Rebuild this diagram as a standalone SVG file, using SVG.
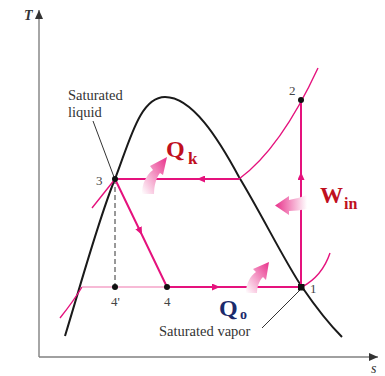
<svg xmlns="http://www.w3.org/2000/svg" width="385" height="376" viewBox="0 0 385 376">
<style>
.axis{stroke:#808080;stroke-width:1.4;fill:none}
.dome{stroke:#1a1a1a;stroke-width:2;fill:none}
.cyc{stroke:#e5127d;stroke-width:2;fill:none}
.iso{stroke:#e5127d;stroke-width:1.4;fill:none}
.isol{stroke:#f5a3c9;stroke-width:1.4;fill:none}
.lead{stroke:#333;stroke-width:1;fill:none}
.dash{stroke:#333;stroke-width:1;stroke-dasharray:5,3;fill:none}
.lbl{font-family:"Liberation Serif",serif;font-size:14.5px;fill:#333}
.num{font-family:"Liberation Serif",serif;font-size:13px;fill:#444}
.big{font-family:"Liberation Serif",serif;font-weight:bold}
.red{fill:#c0101e}
.navy{fill:#1b2a6b}
.dot{fill:#111}
</style>
<defs>
<marker id="ah" markerUnits="userSpaceOnUse" markerWidth="9" markerHeight="7" refX="8" refY="3.5" orient="auto">
<path d="M0,0 L8,3.5 L0,7 z" fill="#e5127d"/>
</marker>
<marker id="axh" markerUnits="userSpaceOnUse" markerWidth="10" markerHeight="8" refX="9" refY="4" orient="auto">
<path d="M0,0 L9,4 L0,8 z" fill="#333"/>
</marker>
<linearGradient id="gUp" x1="0" y1="1" x2="1" y2="0">
<stop offset="0" stop-color="#ffffff"/>
<stop offset="1" stop-color="#e8308a"/>
</linearGradient>
<linearGradient id="gLeft" x1="1" y1="0" x2="0" y2="0">
<stop offset="0" stop-color="#ffffff"/>
<stop offset="1" stop-color="#e8308a"/>
</linearGradient>
</defs>

<g id="axes">
<path class="axis" d="M39 357 L39 10" marker-end="url(#axh)"/>
<path class="axis" d="M39 357 L378 357" marker-end="url(#axh)"/>
<text x="24" y="20" style="font-family:'Liberation Serif',serif;font-style:italic;font-weight:bold;font-size:14px;fill:#333">T</text>
<text x="371" y="373" style="font-family:'Liberation Serif',serif;font-style:italic;font-size:14px;fill:#333">s</text>
</g>

<g id="dome">
<path class="dome" d="M65 336 C85 270 100 215 115 179 C130 140 140 97 165 97 C192 97 218 138 239 177 C262 215 285 262 302 287 C315 306 330 325 342 337"/>
</g>

<g id="connectors">
<path class="iso" d="M92 208 C100 198 108 188 115 179"/>
<path class="iso" d="M239 179 C265 160 293 122 318 68"/>
<path class="iso" d="M302 287 C315 280 325 268 330 253"/>
<path class="iso" d="M60 318 C68 308 76 297 82 287"/>
<path class="isol" d="M82 287 L167 287"/>
<path class="dash" d="M115 179 L115 287"/>
<path class="cyc" d="M239 179 L197 179 L115 179" marker-mid="url(#ah)"/>
<path class="cyc" d="M301 287 L301 172 L301 100" marker-mid="url(#ah)"/>
<path class="cyc" d="M115 179 L142 235 L167 287" marker-mid="url(#ah)"/>
<path class="cyc" d="M167 287 L220 287 L302 287" marker-mid="url(#ah)"/>
<path class="lead" d="M93 121 L114 177"/>
<path class="lead" d="M262 328 L300 290"/>
</g>

<g id="p3"><circle class="dot" cx="115" cy="179" r="3"/><text class="num" x="96" y="185">3</text></g>
<g id="p2"><circle class="dot" cx="301" cy="100" r="3"/><text class="num" x="289" y="95">2</text></g>
<g id="p1"><rect class="dot" x="298" y="284" width="6.5" height="6.5"/><text class="num" x="310" y="293">1</text></g>
<g id="p4"><circle class="dot" cx="167" cy="287" r="3"/><text class="num" x="164" y="306">4</text></g>
<g id="p4p"><circle class="dot" cx="115" cy="287" r="3"/><text class="num" x="111" y="306">4'</text></g>

<g id="satliq">
<text class="lbl" x="68" y="100">Saturated</text>
<text class="lbl" x="68" y="117">liquid</text>
</g>
<g id="satvap">
<text class="lbl" x="159" y="336">Saturated vapor</text>
</g>

<g id="Qk">
<path fill="url(#gUp)" d="M142 194 C142 184 146 175 153 170 L150 166 L167 157 L163 175 L160 173 C156 178 154 186 154 194 Z"/>
<text class="big red" x="166" y="157" font-size="24">Q</text>
<text class="big red" x="188" y="164" font-size="17">k</text>
</g>
<g id="Win">
<path fill="url(#gLeft)" d="M275 205.5 L289 196 L289 200 C295 199 301 197 307 195 L307 209 C301 210 295 211 289 211 L289 215 Z"/>
<text class="big red" x="320" y="203" font-size="23">W</text>
<text class="big red" x="344" y="209" font-size="16">in</text>
</g>
<g id="Qo">
<path fill="url(#gUp)" d="M246 293 C246 284 250 276 256 272 L253 269 L269 262 L266 280 L263 277 C259 281 257 287 257 293 Z"/>
<text class="big navy" x="219" y="316" font-size="24">Q</text>
<text class="big navy" x="240" y="319" font-size="14">o</text>
</g>
</svg>
